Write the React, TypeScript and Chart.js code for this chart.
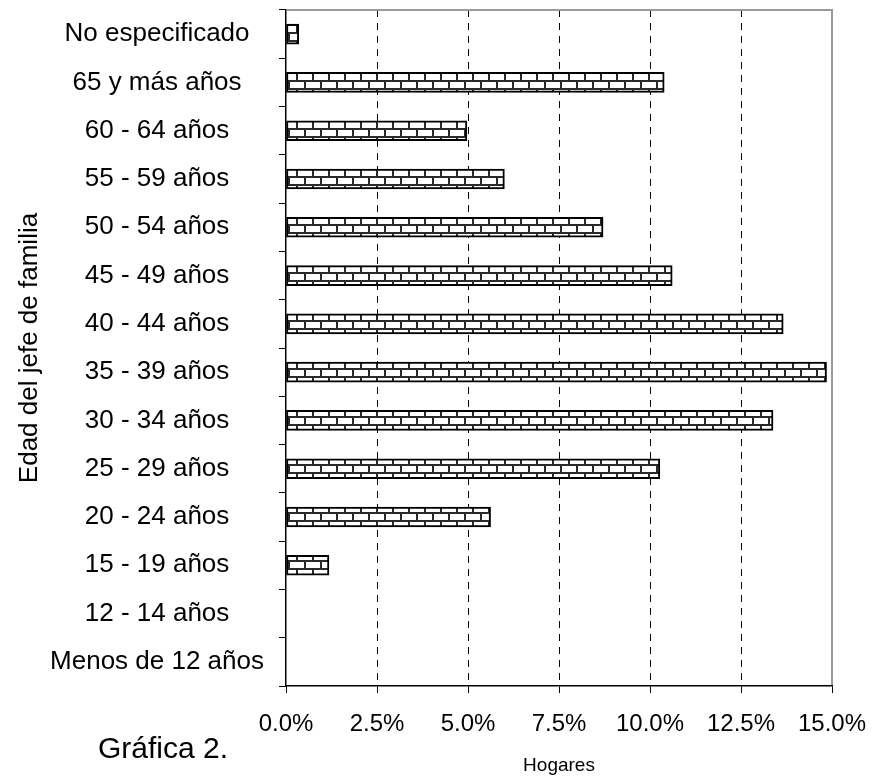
import React, { useEffect, useRef } from 'react';
import { Chart, registerables } from 'chart.js';

Chart.register(...registerables);

// Age groups of the household head, bottom to top
const categories = [
  'Menos de 12 años',
  '12 - 14 años',
  '15 - 19 años',
  '20 - 24 años',
  '25 - 29 años',
  '30 - 34 años',
  '35 - 39 años',
  '40 - 44 años',
  '45 - 49 años',
  '50 - 54 años',
  '55 - 59 años',
  '60 - 64 años',
  '65 y más años',
  'No especificado',
];

// Share of households (%)
const hogares = [0, 0, 1.18, 5.62, 10.27, 13.38, 14.85, 13.66, 10.61, 8.71, 6.0, 4.97, 10.39, 0.35];

const xTicks = [0, 2.5, 5, 7.5, 10, 12.5, 15];

const FONT = "'Liberation Sans', Arial, sans-serif";

function brickPattern(ctx: CanvasRenderingContext2D): CanvasPattern | string {
  const tile = document.createElement('canvas');
  tile.width = 16;
  tile.height = 16;
  const t = tile.getContext('2d');
  if (!t) return '#fff';
  t.fillStyle = '#ffffff';
  t.fillRect(0, 0, 16, 16);
  t.fillStyle = '#2a2a2a';
  // mortar between rows
  t.fillRect(0, 0, 16, 2);
  t.fillRect(0, 8, 16, 2);
  // staggered joints
  t.fillRect(0, 0, 2, 8);
  t.fillRect(8, 8, 2, 8);
  return ctx.createPattern(tile, 'repeat') || '#fff';
}

const framePlugin = {
  id: 'frame',
  afterDraw(chart: any) {
    const { ctx, chartArea } = chart;
    const { left, right, top, bottom } = chartArea;
    ctx.save();
    ctx.strokeStyle = '#9a9a9a';
    ctx.lineWidth = 2;
    ctx.beginPath();
    ctx.moveTo(left + 1, top);
    ctx.lineTo(right, top);
    ctx.lineTo(right, bottom - 1);
    ctx.stroke();
    ctx.restore();
  },
};

const captionPlugin = {
  id: 'caption',
  afterDraw(chart: any) {
    const { ctx } = chart;
    ctx.save();
    ctx.fillStyle = '#000';
    ctx.font = `30px ${FONT}`;
    ctx.textAlign = 'left';
    ctx.textBaseline = 'middle';
    ctx.fillText('Gráfica 2.', 98, 750);
    ctx.restore();
  },
};

export default function App() {
  const canvasRef = useRef<HTMLCanvasElement>(null);

  useEffect(() => {
    const canvas = canvasRef.current;
    if (!canvas) return;
    const ctx = canvas.getContext('2d');
    if (!ctx) return;
    const pattern = brickPattern(ctx);

    const chart = new Chart(ctx, {
      type: 'bar',
      data: {
        labels: categories,
        datasets: [
          {
            label: 'Hogares',
            data: hogares,
            backgroundColor: pattern as any,
            borderColor: '#000',
            borderWidth: 2,
            borderSkipped: false,
            barThickness: 20,
          },
        ],
      },
      plugins: [framePlugin, captionPlugin],
      options: {
        indexAxis: 'y',
        animation: false,
        responsive: false,
        maintainAspectRatio: false,
        layout: { padding: { top: 10, right: 41, bottom: 0, left: 0 } },
        plugins: {
          legend: { display: false },
          tooltip: { enabled: false },
        },
        scales: {
          x: {
            type: 'linear',
            min: 0,
            max: 15,
            afterBuildTicks: (scale: any) => {
              scale.ticks = xTicks.map((v) => ({ value: v }));
            },
            afterFit: (scale: any) => {
              scale.height = 97;
              scale.paddingLeft = 0;
              scale.paddingRight = 0;
            },
            ticks: {
              color: '#000',
              font: { family: FONT, size: 24 },
              padding: 17,
              callback: (v: any) => Number(v).toFixed(1) + '%',
            },
            grid: {
              drawOnChartArea: true,
              drawTicks: true,
              tickLength: 7,
              tickColor: '#000',
              lineWidth: 1,
              color: (c: any) =>
                c.tick && (c.tick.value === 0 || c.tick.value === 15) ? 'rgba(0,0,0,0)' : '#000',
            },
            border: { display: true, color: '#000', width: 1.5, dash: [7, 6] },
            title: {
              display: true,
              text: 'Hogares',
              color: '#000',
              font: { family: FONT, size: 19 },
              padding: { top: 0, bottom: 6 },
            },
          },
          y: {
            type: 'category',
            reverse: true,
            offset: true,
            afterFit: (scale: any) => {
              scale.width = 286;
              scale.paddingTop = 0;
              scale.paddingBottom = 0;
            },
            ticks: {
              color: '#000',
              font: { family: FONT, size: 26 },
              padding: 15,
              crossAlign: 'center',
              autoSkip: false,
            },
            grid: {
              offset: true,
              drawOnChartArea: false,
              drawTicks: true,
              tickLength: 7,
              tickColor: '#000',
            },
            border: { display: true, color: '#000', width: 1.5 },
            title: {
              display: true,
              text: 'Edad del jefe de familia',
              color: '#000',
              font: { family: FONT, size: 26 },
              padding: { top: 14, bottom: 0 },
            },
          },
        },
      },
    });

    return () => chart.destroy();
  }, []);

  return (
    <div style={{ position: 'fixed', left: 0, top: 0, width: 873, height: 783, background: '#fff' }}>
      <canvas ref={canvasRef} width={873} height={783} style={{ display: 'block' }} />
    </div>
  );
}
